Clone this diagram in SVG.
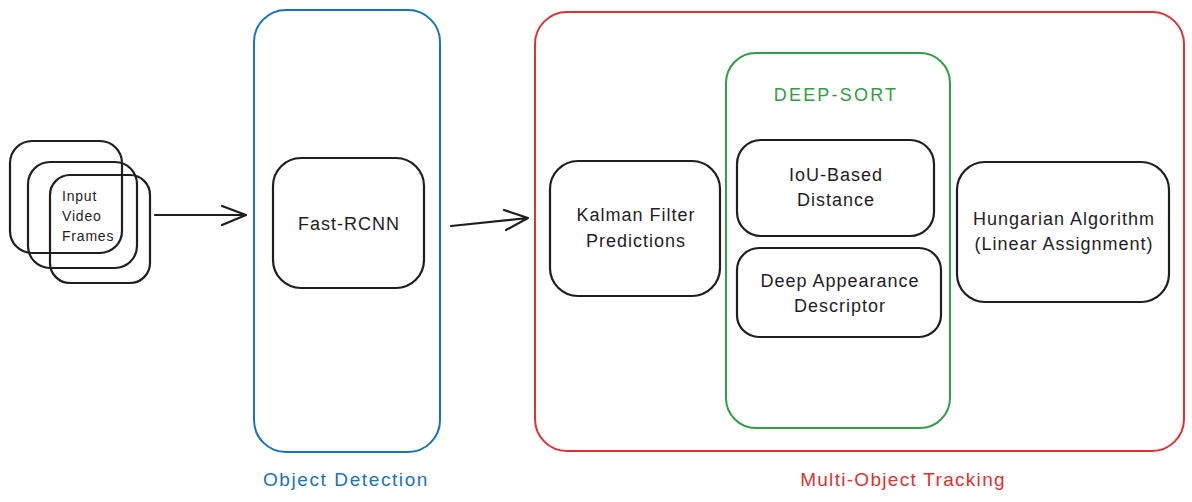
<svg xmlns="http://www.w3.org/2000/svg" width="1192" height="502" viewBox="0 0 1192 502">
<defs>
<style>
.box{fill:none;stroke:#1e1e1e;stroke-width:2.2}
.t{font-family:"Liberation Sans",Arial,sans-serif;font-size:18px;letter-spacing:1px;fill:#1e1e1e;text-anchor:middle}
.conn{fill:none;stroke:#1e1e1e;stroke-width:2.2;stroke-linecap:round;stroke-linejoin:round}
</style>
</defs>
<rect width="1192" height="502" fill="#ffffff"/>
<g id="object-detection">
<rect x="254" y="10" width="186" height="442" rx="32" fill="none" stroke="#1971c2" stroke-width="2"/>
<text x="346" y="486" class="t" style="fill:#1971c2;font-size:19px;letter-spacing:1.6px">Object Detection</text>
</g>
<g id="multi-object-tracking">
<rect x="535" y="12" width="649" height="439" rx="32" fill="none" stroke="#e03131" stroke-width="2"/>
<text x="903" y="486" class="t" style="fill:#e03131;font-size:19px;letter-spacing:1.3px">Multi-Object Tracking</text>
</g>
<g id="deep-sort">
<rect x="726" y="53" width="224" height="375" rx="30" fill="none" stroke="#2f9e44" stroke-width="2"/>
<text x="836" y="101" class="t" style="fill:#2f9e44;font-size:18px;letter-spacing:2.2px">DEEP-SORT</text>
</g>
<g id="input-frames">
<rect x="10" y="141" width="112" height="112" rx="22" class="box"/>
<rect x="28" y="162" width="109" height="106" rx="22" class="box"/>
<rect x="50" y="175" width="100" height="108" rx="20" class="box"/>
<text class="t" style="text-anchor:start;font-size:14px;letter-spacing:0.8px"><tspan x="62" y="201">Input</tspan><tspan x="62" y="221">Video</tspan><tspan x="62" y="241">Frames</tspan></text>
</g>
<g id="fast-rcnn">
<rect x="273" y="158" width="151" height="130" rx="28" class="box"/>
<text x="349" y="230" class="t">Fast-RCNN</text>
</g>
<g id="kalman">
<rect x="550" y="161" width="170" height="135" rx="28" class="box"/>
<text class="t"><tspan x="636" y="221">Kalman Filter</tspan><tspan x="636" y="247">Predictions</tspan></text>
</g>
<g id="iou">
<rect x="737" y="140" width="197" height="96" rx="24" class="box"/>
<text class="t"><tspan x="836" y="181">IoU-Based</tspan><tspan x="836" y="206">Distance</tspan></text>
</g>
<g id="appearance">
<rect x="737" y="248" width="204" height="89" rx="22" class="box"/>
<text class="t"><tspan x="840" y="287">Deep Appearance</tspan><tspan x="840" y="312">Descriptor</tspan></text>
</g>
<g id="hungarian">
<rect x="957" y="162" width="212" height="140" rx="28" class="box"/>
<text class="t"><tspan x="1064" y="225">Hungarian Algorithm</tspan><tspan x="1064" y="250">(Linear Assignment)</tspan></text>
</g>
<g id="connectors">
<path class="conn" d="M155 215 L246 215 M222 206 L246 215 L222 225"/>
<path class="conn" d="M451 226 L528 218 M504 210 L528 218 L506 230"/>
</g>
</svg>
